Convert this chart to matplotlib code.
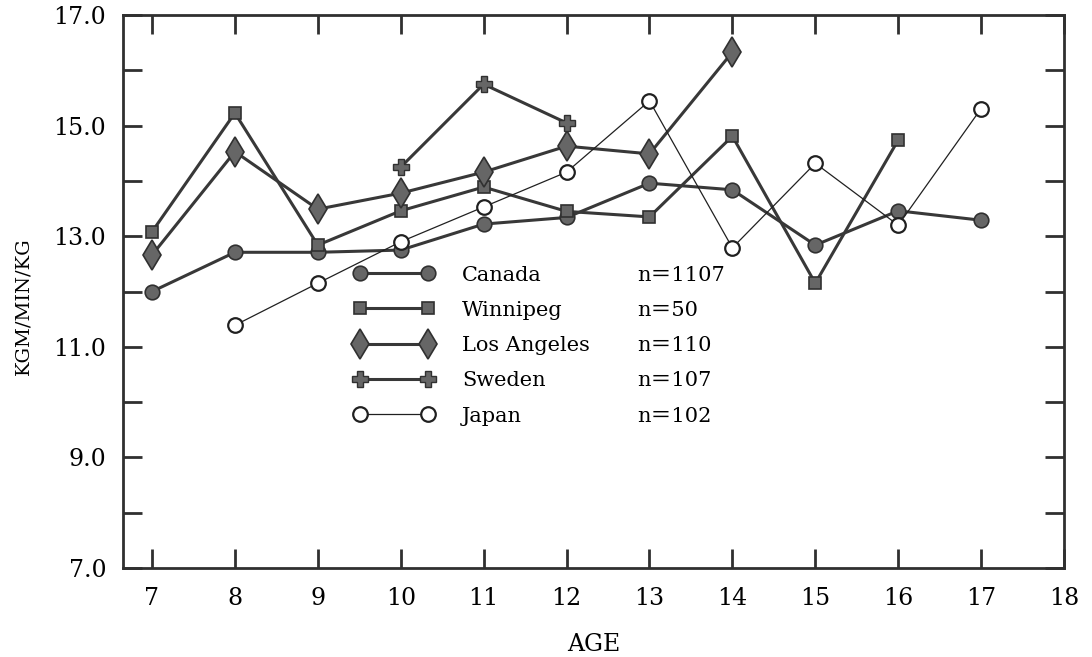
import matplotlib
matplotlib.use("Agg")
import matplotlib.pyplot as plt
from matplotlib.lines import Line2D

plt.rcParams['font.family'] = ['DejaVu Serif', 'Noto Sans CJK JP']

# ages and KGM/MIN/KG values
age_canada = [7, 8, 9, 10, 11, 12, 13, 14, 15, 16, 17]
canada = [12.0, 12.71, 12.71, 12.75, 13.22, 13.34, 13.96, 13.84, 12.84, 13.46, 13.29]

age_winnipeg = [7, 8, 9, 10, 11, 12, 13, 14, 15, 16]
winnipeg = [13.08, 15.23, 12.84, 13.46, 13.89, 13.45, 13.35, 14.81, 12.15, 14.74]

age_la = [7, 8, 9, 10, 11, 12, 13, 14]
los_angeles = [12.66, 14.53, 13.49, 13.78, 14.16, 14.63, 14.49, 16.33]

age_sweden = [10, 11, 12]
sweden = [14.25, 15.75, 15.05]

age_japan = [8, 9, 10, 11, 12, 13, 14, 15, 16, 17]
japan = [11.39, 12.15, 12.9, 13.53, 14.16, 15.45, 12.79, 14.32, 13.2, 15.31]

names = ['Canada', 'Winnipeg', 'Los Angeles', 'Sweden', 'Japan']
n_labels = ['n\uff1d1107', 'n\uff1d50', 'n\uff1d110', 'n\uff1d107', 'n\uff1d102']

line_col = '#383838'
fill_col = '#666666'

fig = plt.figure(figsize=(10.92, 6.57), dpi=100)
ax = fig.add_axes([0.1126, 0.1355, 0.8618, 0.8415])

h1, = ax.plot(age_canada, canada, color=line_col, lw=2.2, marker='o', ms=10.5,
              mfc=fill_col, mec='#303030', mew=1.2)
h2, = ax.plot(age_winnipeg, winnipeg, color=line_col, lw=2.2, marker='s', ms=9,
              mfc=fill_col, mec='#303030', mew=1.2)
h3, = ax.plot(age_la, los_angeles, color=line_col, lw=2.2, marker='d', ms=15,
              mfc=fill_col, mec='#303030', mew=1.2)
h4, = ax.plot(age_sweden, sweden, color=line_col, lw=2.2, marker='P', ms=12,
              mfc=fill_col, mec='#303030', mew=1.0)
h5, = ax.plot(age_japan, japan, color='#202020', lw=0.9, marker='o', ms=10.5,
              mfc='white', mec='#202020', mew=1.6)

ax.set_xlim(6.65, 18.0)
ax.set_ylim(7, 17)
ax.set_xticks(range(7, 19))
ax.set_yticks(range(7, 18))
ax.set_yticklabels(['%.1f' % v if v % 2 == 1 else '' for v in range(7, 18)])

ax.tick_params(direction='in', length=14, width=2, top=True, right=True,
               labelsize=17, color='#303030', pad=12)
ax.tick_params(axis='x', pad=14)
for s in ax.spines.values():
    s.set_linewidth(2)
    s.set_color('#303030')

ax.set_xlabel('AGE', fontsize=17, labelpad=16)
ax.set_ylabel('KGM/MIN/KG', fontsize=14)
ax.yaxis.set_label_coords(-0.096, 0.474)

leg1 = ax.legend([h1, h2, h3, h4, h5], names, loc='upper left',
                 bbox_to_anchor=(0.225, 0.581), frameon=False, fontsize=15,
                 numpoints=2, handlelength=3.9, handletextpad=1.3,
                 labelspacing=0.78)
ax.add_artist(leg1)
blank = [Line2D([], [], linestyle='none') for _ in n_labels]
ax.legend(blank, n_labels, loc='upper left', bbox_to_anchor=(0.526, 0.581),
          frameon=False, fontsize=15, handlelength=0, handletextpad=0,
          labelspacing=0.78)

fig.savefig('out.png', dpi=100)
